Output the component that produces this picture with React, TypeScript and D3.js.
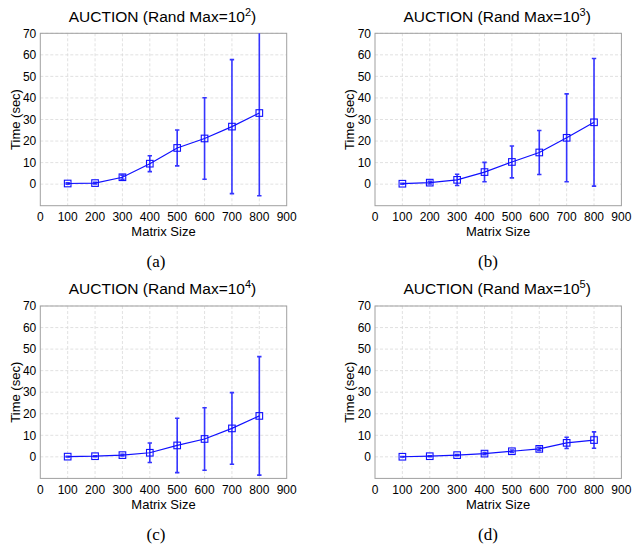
import React from "react";
import * as d3 from "d3";

const sizes = [100, 200, 300, 400, 500, 600, 700, 800];
const meansA = [0.3, 0.5, 3.2, 9.5, 16.8, 21.2, 26.7, 33.0];
const errA = [0.3, 0.4, 1.0, 3.7, 8.3, 18.9, 31.1, 38.4];
const meansB = [0.2, 0.7, 2.0, 5.6, 10.3, 14.7, 21.5, 28.7];
const errB = [0.2, 0.6, 2.6, 4.5, 7.4, 10.2, 20.4, 29.6];
const meansC = [0.1, 0.3, 0.8, 1.9, 5.3, 8.3, 13.2, 19.0];
const errC = [0.1, 0.2, 0.4, 4.5, 12.6, 14.5, 16.6, 27.5];
const meansD = [0.05, 0.3, 0.8, 1.5, 2.6, 3.7, 6.5, 7.8];
const errD = [0.05, 0.2, 0.3, 0.5, 0.6, 0.7, 2.6, 3.8];
const exponents = ["2", "3", "4", "5"];
const captions = ["(a)", "(b)", "(c)", "(d)"];
const xTicks = [0, 100, 200, 300, 400, 500, 600, 700, 800, 900];
const yTicks = [0, 10, 20, 30, 40, 50, 60, 70];

const W = 633;
const H = 546;
const PX = 334.7;
const PY = 272.7;
const L = 40.3, R = 286.7, T = 33.3, B = 205.7;
const SANS = "'Liberation Sans', Arial, Helvetica, sans-serif";
const SERIF = "'Liberation Serif', 'Times New Roman', serif";

function Panel({ idx, means, errs }: { idx: number; means: number[]; errs: number[] }) {
  const ox = (idx % 2) * PX;
  const oy = Math.floor(idx / 2) * PY;
  const x = d3.scaleLinear().domain([0, 900]).range([L, R]);
  const y = d3.scaleLinear().domain([-10, 70]).range([B, T]);
  const pts = sizes.map((s, i) => [x(s), y(means[i])] as [number, number]);
  const line = d3.line()(pts) || "";
  const clipId = `clip${idx}`;
  const cx = (L + R) / 2;
  const cap = 2.2;
  const m = 3.3;
  return (
    <g transform={`translate(${ox},${oy})`}>
      <defs>
        <clipPath id={clipId}>
          <rect x={L} y={T} width={R - L} height={B - T} />
        </clipPath>
      </defs>
      <rect x={L} y={T} width={R - L} height={B - T} fill="#fff" />
      {xTicks.slice(1, -1).map((t) => (
        <line key={"gx" + t} x1={x(t)} x2={x(t)} y1={T} y2={B} stroke="#d9d9d9" strokeWidth={0.8} strokeDasharray="3,2" />
      ))}
      {yTicks.map((t) => (
        <line key={"gy" + t} x1={L} x2={R} y1={y(t)} y2={y(t)} stroke="#d9d9d9" strokeWidth={0.8} strokeDasharray="3,2" />
      ))}
      <rect x={L} y={T} width={R - L} height={B - T} fill="none" stroke="#a0a0a0" strokeWidth={1} />
      <g clipPath={`url(#${clipId})`}>
        {sizes.map((s, i) => {
          const lo = y(means[i] - errs[i]);
          const hi = y(means[i] + errs[i]);
          const xx = x(s);
          return (
            <g key={"e" + s} stroke="#3535ff" strokeWidth={1.6}>
              <line x1={xx} x2={xx} y1={lo} y2={hi} />
              <line x1={xx - cap} x2={xx + cap} y1={lo} y2={lo} />
              <line x1={xx - cap} x2={xx + cap} y1={hi} y2={hi} />
            </g>
          );
        })}
        <path d={line} fill="none" stroke="#1010ff" strokeWidth={1.2} />
        {pts.map(([px, py], i) => (
          <rect key={"m" + i} x={px - m} y={py - m} width={2 * m} height={2 * m} fill="none" stroke="#1010ff" strokeWidth={1.1} />
        ))}
      </g>
      {xTicks.map((t) => (
        <text key={"xt" + t} x={x(t)} y={221} textAnchor="middle" fontFamily={SANS} fontSize={12} fill="#000">
          {t}
        </text>
      ))}
      {yTicks.map((t) => (
        <text key={"yt" + t} x={L - 4} y={y(t) + 4.3} textAnchor="end" fontFamily={SANS} fontSize={12} fill="#000">
          {t}
        </text>
      ))}
      <text x={cx} y={236} textAnchor="middle" fontFamily={SANS} fontSize={13} fill="#000">
        Matrix Size
      </text>
      <text transform={`translate(19.5,${(T + B) / 2}) rotate(-90)`} textAnchor="middle" fontFamily={SANS} fontSize={13} fill="#000">
        Time (sec)
      </text>
      <text x={cx - 1} y={21.5} textAnchor="middle" fontFamily={SANS} fontSize={15.5} fill="#000">
        AUCTION (Rand Max=10
        <tspan fontSize={11} dy={-6}>{exponents[idx]}</tspan>
        <tspan dy={6}>)</tspan>
      </text>
      <text x={idx % 2 === 0 ? 156 : 153.3} y={267} textAnchor="middle" fontFamily={SERIF} fontSize={17} fill="#000">
        {captions[idx]}
      </text>
    </g>
  );
}

export default function App() {
  const data = [
    [meansA, errA],
    [meansB, errB],
    [meansC, errC],
    [meansD, errD],
  ];
  return (
    <svg width={W} height={H} style={{ position: "absolute", left: 0, top: 0, background: "#fff" }}>
      <rect width={W} height={H} fill="#fff" />
      {data.map(([m, e], i) => (
        <Panel key={i} idx={i} means={m} errs={e} />
      ))}
    </svg>
  );
}
